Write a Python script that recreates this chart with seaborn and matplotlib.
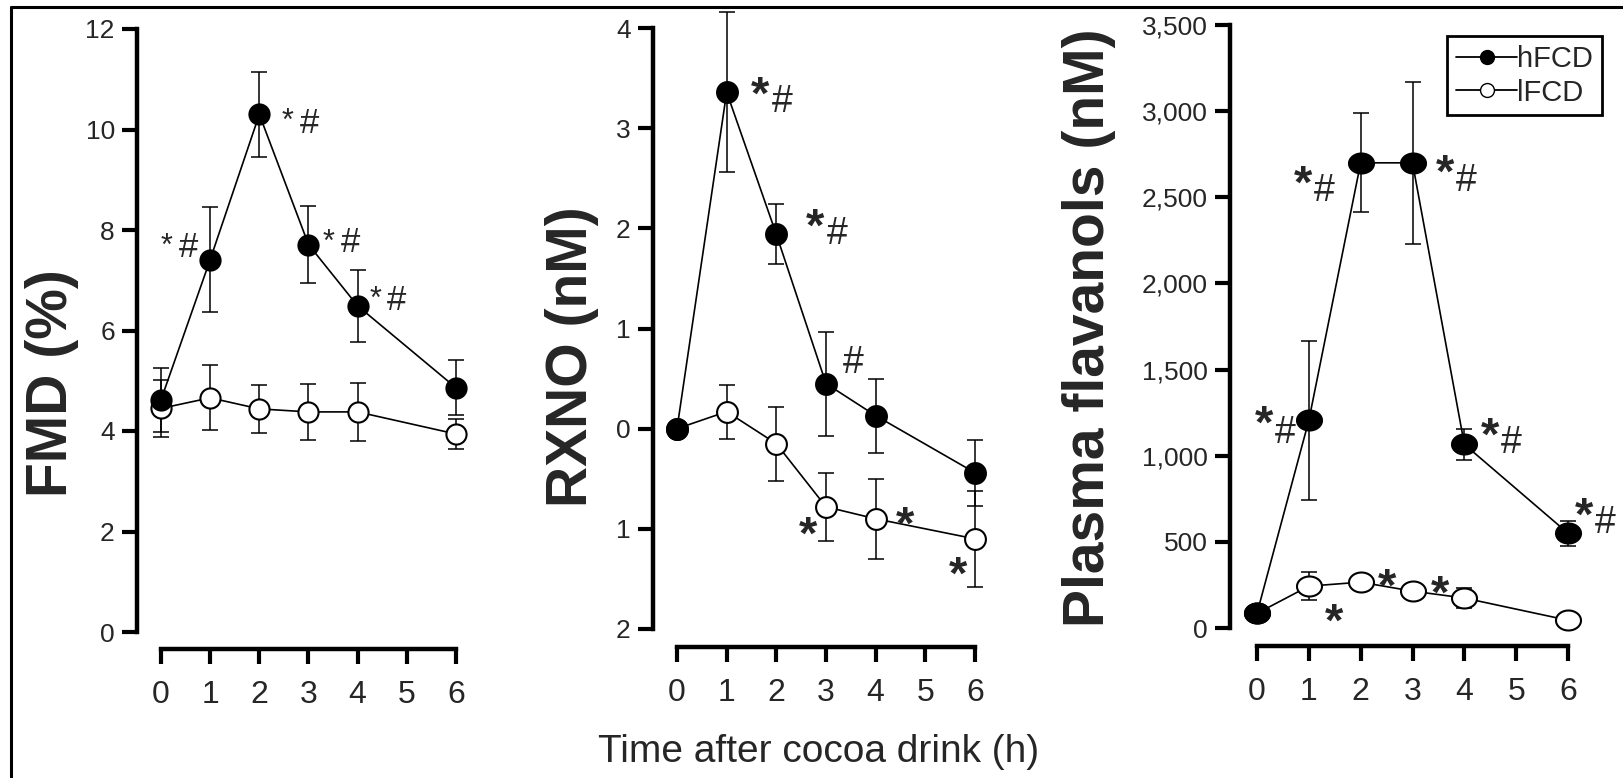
import numpy as np
import matplotlib
matplotlib.use("Agg")
import matplotlib.pyplot as plt
import seaborn as sns
from matplotlib.lines import Line2D
from matplotlib.path import Path

# ---------------- data ----------------
time = [0, 1, 2, 3, 4, 6]
xticks = [0, 1, 2, 3, 4, 5, 6]

fmd_h = [4.62, 7.41, 10.30, 7.71, 6.49, 4.86]
fmd_h_err = [0.64, 1.05, 0.85, 0.77, 0.72, 0.55]
fmd_l = [4.45, 4.66, 4.44, 4.38, 4.38, 3.94]
fmd_l_err = [0.57, 0.65, 0.47, 0.56, 0.58, 0.29]

rxno_h = [0.0, 3.36, 1.94, 0.45, 0.13, -0.44]
rxno_h_err = [0.0, 0.80, 0.30, 0.52, 0.37, 0.33]
rxno_l = [0.0, 0.17, -0.15, -0.78, -0.90, -1.10]
rxno_l_err = [0.0, 0.27, 0.37, 0.34, 0.40, 0.48]

flav_h = [85, 1205, 2700, 2700, 1066, 550]
flav_h_err = [0, 460, 287, 470, 90, 72]
flav_l = [85, 243, 266, 214, 174, 45]
flav_l_err = [0, 80, 30, 20, 58, 30]

fmd_yticks = [0, 2, 4, 6, 8, 10, 12]
fmd_ylabels = ["0", "2", "4", "6", "8", "10", "12"]
rxno_yticks = [-2, -1, 0, 1, 2, 3, 4]
rxno_ylabels = ["2", "1", "0", "1", "2", "3", "4"]
flav_yticks = [0, 500, 1000, 1500, 2000, 2500, 3000, 3500]
flav_ylabels = ["0", "500", "1,000", "1,500", "2,000", "2,500", "3,000", "3,500"]

series_names = ["hFCD", "lFCD"]
ylabels = ["FMD (%)", "RXNO (nM)", "Plasma flavanols (nM)"]
xlabel = "Time after cocoa drink (h)"

# significance marks: (time, series, text)
fmd_marks = [(1, "h", "*"), (1, "h", "#"), (2, "h", "*"), (2, "h", "#"),
             (3, "h", "*"), (3, "h", "#"), (4, "h", "*"), (4, "h", "#")]
rxno_marks = [(1, "h", "*"), (1, "h", "#"), (2, "h", "*"), (2, "h", "#"),
              (3, "h", "#"), (3, "l", "*"), (4, "l", "*"), (6, "l", "*")]
flav_marks = [(1, "h", "*"), (1, "h", "#"), (2, "h", "*"), (2, "h", "#"),
              (3, "h", "*"), (3, "h", "#"), (4, "h", "*"), (4, "h", "#"),
              (6, "h", "*"), (6, "h", "#"), (1, "l", "*"), (2, "l", "*"), (3, "l", "*")]

# ---------------- layout (pixel based) ----------------
sns.set_style("white")
plt.rcParams["font.family"] = ["Liberation Sans", "DejaVu Sans"]

W, H = 1623, 778
DPI = 100
fig = plt.figure(figsize=(W / DPI, H / DPI), dpi=DPI)
PT = DPI / 72.0


def make_axes(spine_x, x0, x6, ytop, ybot, yt_val, yb_val, right, x_out):
    pph = (x6 - x0) / 6.0
    ax = fig.add_axes([spine_x / W, 1 - ybot / H, (right - spine_x) / W, (ybot - ytop) / H])
    ax.set_xlim(-(x0 - spine_x) / pph, 6 + (right - x6) / pph)
    ax.set_ylim(yb_val, yt_val)
    ax.patch.set_alpha(0)
    for s in ["top", "right"]:
        ax.spines[s].set_visible(False)
    for s in ["left", "bottom"]:
        ax.spines[s].set_linewidth(3.2)
        ax.spines[s].set_color("black")
    ax.spines["left"].set_bounds(yb_val, yt_val)
    ax.spines["bottom"].set_bounds(0, 6)
    ax.spines["bottom"].set_position(("outward", x_out / PT))
    ax.tick_params(axis="both", which="major", direction="out", length=11, width=3.0,
                   color="black", bottom=True, left=True, top=False, right=False)
    ax.tick_params(axis="y", pad=5, labelsize=19)
    ax.tick_params(axis="x", pad=11, labelsize=23)
    ax.set_xticks(xticks)
    ax.set_xticklabels([str(t) for t in xticks])
    return ax


ax1 = make_axes(137, 161, 456, 29, 632, 12, 0, 480, 17)
ax2 = make_axes(653, 677, 975, 28, 629, 4, -2, 1000, 18)
ax3 = make_axes(1230, 1257, 1568, 25, 628, 3500, 0, 1610, 18)

ax1.set_yticks(fmd_yticks); ax1.set_yticklabels(fmd_ylabels)
ax2.set_yticks(rxno_yticks); ax2.set_yticklabels(rxno_ylabels)
ax3.set_yticks(flav_yticks); ax3.set_yticklabels(flav_ylabels)

th = np.linspace(0, 2 * np.pi, 60)
ellipse = Path(np.column_stack([np.cos(th), 0.8 * np.sin(th)]), closed=True)


def draw_series(ax, y, err, filled, ms, marker="o"):
    fc = "black" if filled else "white"
    z = 5 if filled else 4
    ax.errorbar(time, y, yerr=err, fmt="none", ecolor="black", elinewidth=1.1,
                capsize=5.5, capthick=1.1, zorder=z - 2, clip_on=False)
    sns.lineplot(x=time, y=y, ax=ax, color="black", linewidth=1.2, marker=marker,
                 markersize=ms, markerfacecolor=fc, markeredgecolor="black",
                 markeredgewidth=1.5, zorder=z, clip_on=False, legend=False)


draw_series(ax1, fmd_l, fmd_l_err, False, 14.5)
draw_series(ax1, fmd_h, fmd_h_err, True, 14.5)
draw_series(ax2, rxno_l, rxno_l_err, False, 15)
draw_series(ax2, rxno_h, rxno_h_err, True, 15)
draw_series(ax3, flav_l, flav_l_err, False, 18, ellipse)
draw_series(ax3, flav_h, flav_h_err, True, 18, ellipse)

# ---------------- annotations ----------------
# pixel offsets (dx right, dy down) of glyph centres from their data point
fmd_off = [(-44, -23), (-22, -15), (28, -3), (50, 6), (20, -12), (42, -5), (18, -16), (39, -8)]
rxno_off = [(33, -10), (56, 7), (39, -20), (61, -3), (27, -24), (-18, 15), (29, -7), (-17, 23)]
flav_off = [(-45, -9), (-24, 9), (-58, 8), (-36, 25), (33, -3), (54, 15), (26, -21), (47, -4),
            (16, -30), (37, -13), (25, 23), (26, -8), (28, -10)]


def annotate(ax, marks, offs, hv, lv, star_style, hash_size):
    for (t, s, txt), (dx, dy) in zip(marks, offs):
        vals = hv if s == "h" else lv
        yv = vals[time.index(t)]
        if txt == "*":
            size, weight, k = star_style
        else:
            size, weight, k = hash_size, "normal", 0.35
        em = size * PT
        ax.annotate(txt, (t, yv), xytext=(dx, -(dy + k * em)), textcoords="offset pixels",
                    ha="center", va="baseline", fontsize=size, fontweight=weight,
                    annotation_clip=False, zorder=10)


annotate(ax1, fmd_marks, fmd_off, fmd_h, fmd_l, (22, "normal", 0.6), 25)
annotate(ax2, rxno_marks, rxno_off, rxno_h, rxno_l, (34, "bold", 0.56), 27)
annotate(ax3, flav_marks, flav_off, flav_h, flav_l, (34, "bold", 0.56), 27)

# ---------------- labels ----------------
for xc, yc, lab in [(52, 383, ylabels[0]), (572, 357, ylabels[1]), (1089, 328, ylabels[2])]:
    fig.text(xc / W, 1 - yc / H, lab, rotation=90, ha="center", va="center",
             fontsize=41, fontweight="bold")

fig.text(819 / W, 1 - 762 / H, xlabel, ha="center", va="baseline", fontsize=28)

# legend
handles = [Line2D([], [], color="black", lw=1.3, marker="o", ms=10, mfc="black", mec="black"),
           Line2D([], [], color="black", lw=1.3, marker="o", ms=10, mfc="white", mec="black")]
leg = ax3.legend(handles, series_names, loc="upper right",
                 bbox_to_anchor=(1602 / W, 1 - 36 / H), bbox_transform=fig.transFigure,
                 frameon=True, fancybox=False, framealpha=1, edgecolor="black",
                 fontsize=21, handlelength=2.1, handletextpad=0.0, labelspacing=0.2,
                 borderpad=0.3, borderaxespad=0)
leg.get_frame().set_linewidth(2)

# outer frame (left and top edges)
fig.add_artist(Line2D([11 / W, 11 / W], [0, 1 - 7 / H], transform=fig.transFigure,
                      color="black", lw=2.2))
fig.add_artist(Line2D([11 / W, 1], [1 - 7 / H, 1 - 7 / H], transform=fig.transFigure,
                      color="black", lw=2.2))

fig.savefig("out.png", dpi=DPI, facecolor="white")
